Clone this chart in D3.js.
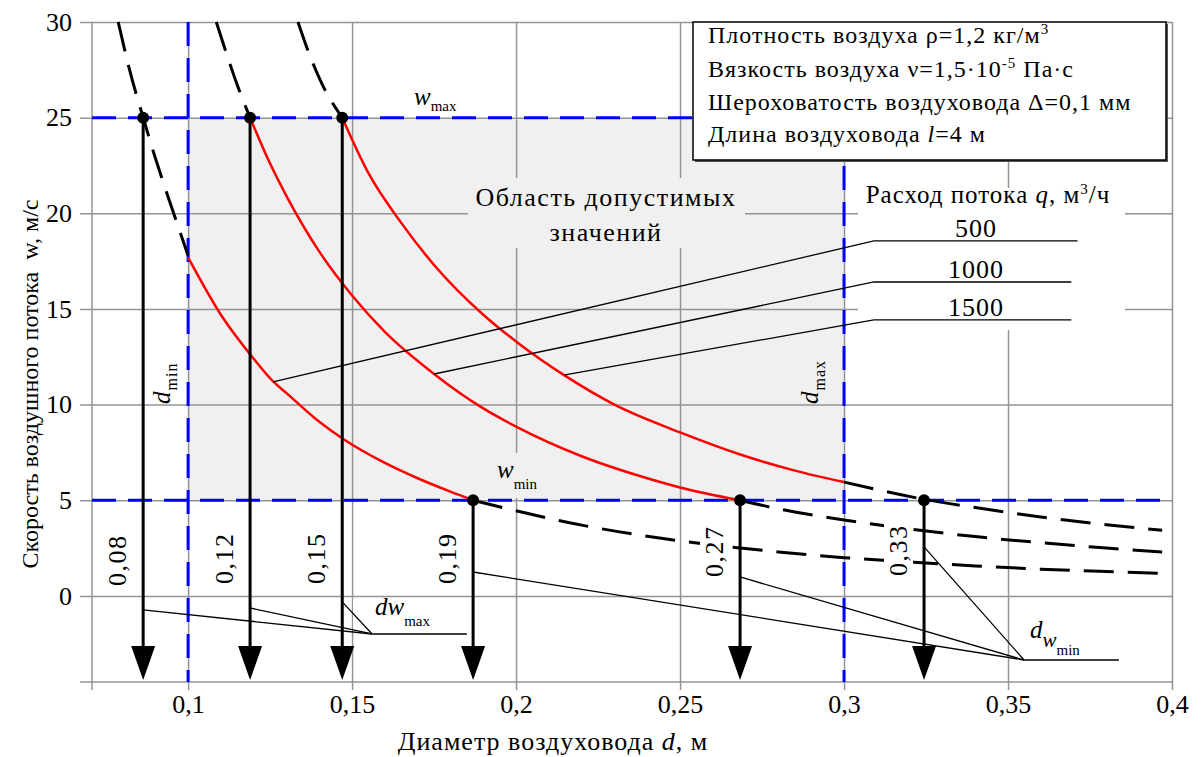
<!DOCTYPE html>
<html>
<head>
<meta charset="utf-8">
<script src="https://cdn.jsdelivr.net/npm/d3@7/dist/d3.min.js"></script>
<style>
body { margin: 0; background: #fff; }
svg text { font-family: "Liberation Serif", "DejaVu Serif", serif; fill: #000; }
</style>
</head>
<body>
<svg id="chart" width="1202" height="757"></svg>
<script>
// axes
const xTicks = [0.1, 0.15, 0.2, 0.25, 0.3, 0.35, 0.4];
const xTickLabels = ["0,1", "0,15", "0,2", "0,25", "0,3", "0,35", "0,4"];
const yTicks = [0, 5, 10, 15, 20, 25, 30];

// allowed region: d from dMin to dMax, w from wMin to wMax
const dLimits = [0.1, 0.3];
const wLimits = [5, 25];

// flow curves q = 500, 1000, 1500 m3/h (d, w)
const q500Upper = [[0.0787, 30], [0.082, 27.6], [0.0863, 25], [0.09, 22.9], [0.095, 20.3], [0.1, 17.8]];
const q500Red = [[0.1, 17.7], [0.11, 14.7], [0.12, 12.4], [0.126, 11.2], [0.13, 10.6], [0.14, 9.1],
                 [0.1473, 8.2], [0.16, 6.95], [0.17, 6.15], [0.18, 5.45], [0.1869, 5.0]];
const q500Lower = [[0.1869, 5.0], [0.2, 4.45], [0.22, 3.7], [0.24, 3.12], [0.26, 2.66], [0.28, 2.3],
                   [0.3, 2.0], [0.32, 1.77], [0.34, 1.57], [0.36, 1.4], [0.38, 1.27], [0.397, 1.18]];

const q1000Upper = [[0.1086, 30], [0.112, 28.2], [0.115, 26.7], [0.1189, 25]];
const q1000Red = [[0.1189, 25], [0.125, 22.6], [0.13, 20.9], [0.14, 18.0], [0.15, 15.7], [0.16, 13.8],
                  [0.175, 11.6], [0.19, 9.8], [0.2, 8.85], [0.22, 7.3], [0.24, 6.15], [0.25, 5.67], [0.2683, 5.0]];
const q1000Lower = [[0.2683, 5.0], [0.28, 4.55], [0.3, 3.97], [0.32, 3.5], [0.34, 3.1], [0.36, 2.78],
                    [0.38, 2.5], [0.397, 2.3]];

const q1500Upper = [[0.1335, 30], [0.137, 28.3], [0.141, 26.7], [0.147, 25]];
const q1500Red = [[0.147, 25], [0.155, 22.1], [0.165, 19.5], [0.175, 17.3], [0.19, 14.7], [0.2, 13.3],
                  [0.215, 11.5], [0.23, 10.0], [0.25, 8.55], [0.27, 7.3], [0.285, 6.55], [0.3, 5.95]];
const q1500Lower = [[0.3, 5.95], [0.3244, 5.05], [0.34, 4.62], [0.36, 4.13], [0.38, 3.72], [0.397, 3.43]];

// arrows to the d axis
const arrowD = [0.0863, 0.1189, 0.147, 0.1869, 0.2683, 0.3244];
const arrowW = [25, 25, 25, 5, 5, 5];
const arrowLabels = ["0,08", "0,12", "0,15", "0,19", "0,27", "0,33"];

// legend of flows and its leader lines
const flowLabels = ["500", "1000", "1500"];
const flowOnCurve = [[0.1259, 11.19], [0.175, 11.6], [0.2149, 11.55]];
const flowKneeD = 0.3091;
const flowKneeW = [18.56, 16.41, 14.43];
const flowEndD = [0.3712, 0.3693, 0.3693];

// dw leaders
const dwMaxW = [-0.73, -0.63, -0.31];
const dwMaxKnee = [0.1561, -1.99];
const dwMaxEndD = 0.185;
const dwMinW = [1.25, 0.99, 2.56];
const dwMinKnee = [0.3549, -3.35];
const dwMinEndD = 0.3838;

const FONT = '"Liberation Serif", "DejaVu Serif", serif';
const svg = d3.select("#chart").style("font-family", FONT);
const x = d3.scaleLinear().domain([0.0707, 0.4]).range([92, 1172]);
const y = d3.scaleLinear().domain([-4.5, 30]).range([682, 22]);
const gridColor = "#949494";

// grey region
svg.append("rect")
    .attr("x", x(dLimits[0])).attr("y", y(wLimits[1]))
    .attr("width", x(dLimits[1]) - x(dLimits[0]))
    .attr("height", y(wLimits[0]) - y(wLimits[1]))
    .attr("fill", "#f0f0f0");

// grid through axes
let gx = svg.append("g")
    .attr("transform", "translate(0,690)")
    .call(d3.axisBottom(x).tickValues(xTicks).tickFormat((d, i) => xTickLabels[i]).tickSize(-668).tickPadding(5));
gx.attr("font-size", 26).attr("font-family", FONT);
gx.select(".domain").remove();
gx.selectAll(".tick line").attr("stroke", gridColor).attr("stroke-width", 1.5);

let gy = svg.append("g")
    .attr("transform", "translate(80,0)")
    .call(d3.axisLeft(y).tickValues(yTicks).tickSize(-1092).tickPadding(8));
gy.attr("font-size", 26).attr("font-family", FONT);
gy.select(".domain").remove();
gy.selectAll(".tick line").attr("stroke", gridColor).attr("stroke-width", 1.5);

svg.append("line").attr("x1", x.range()[0]).attr("x2", x.range()[0]).attr("y1", y(30)).attr("y2", 690)
    .attr("stroke", gridColor).attr("stroke-width", 1.5);
svg.append("line").attr("x1", 80).attr("x2", x.range()[1]).attr("y1", y(-4.5)).attr("y2", y(-4.5))
    .attr("stroke", gridColor).attr("stroke-width", 1.5);

// label backgrounds that hide the grid
function bg(x0, y0, w, h, fill) {
    svg.append("rect").attr("x", x0).attr("y", y0).attr("width", w).attr("height", h).attr("fill", fill);
}
bg(468, 178, 277, 70, "#f0f0f0");
bg(496, 453, 54, 45, "#f0f0f0");
bg(858, 188, 267, 142, "#fff");
bg(353, 598, 110, 33, "#fff");
bg(1010, 612, 100, 46, "#fff");

// blue limit lines
const blue = svg.append("g").attr("stroke", "#0000ff").attr("stroke-width", 3).attr("stroke-dasharray", "24 12");
wLimits.forEach(w => {
    blue.append("line").attr("x1", x.range()[0]).attr("x2", x(0.4)).attr("y1", y(w)).attr("y2", y(w));
});
dLimits.forEach(d => {
    blue.append("line").attr("x1", x(d)).attr("x2", x(d)).attr("y1", y(30)).attr("y2", y(-4.5));
});

// curves
const line = d3.line().x(d => x(d[0])).y(d => y(d[1])).curve(d3.curveMonotoneX);
[q500Upper, q1000Upper, q1500Upper, q500Lower, q1000Lower, q1500Lower].forEach(seg => {
    svg.append("path").attr("d", line(seg)).attr("fill", "none")
        .attr("stroke", "#000").attr("stroke-width", 3).attr("stroke-dasharray", "30 14");
});
[q500Red, q1000Red, q1500Red].forEach(seg => {
    svg.append("path").attr("d", line(seg)).attr("fill", "none")
        .attr("stroke", "#ff0000").attr("stroke-width", 2.5);
});

// legend leader lines
const thin = svg.append("g").attr("stroke", "#000").attr("stroke-width", 1.3).attr("fill", "none");
const straight = d3.line().x(d => x(d[0])).y(d => y(d[1]));
flowLabels.forEach((f, i) => {
    thin.append("path").attr("d", straight([flowOnCurve[i], [flowKneeD, flowKneeW[i]], [flowEndD[i], flowKneeW[i]]]));
});
// dw leaders
[0, 1, 2].forEach(i => {
    thin.append("path").attr("d", straight([[arrowD[i], dwMaxW[i]], dwMaxKnee]));
    thin.append("path").attr("d", straight([[arrowD[i + 3], dwMinW[i]], dwMinKnee]));
});
thin.append("line").attr("x1", x(dwMaxKnee[0])).attr("x2", x(dwMaxEndD)).attr("y1", y(dwMaxKnee[1])).attr("y2", y(dwMaxKnee[1]));
thin.append("line").attr("x1", x(dwMinKnee[0])).attr("x2", x(dwMinEndD)).attr("y1", y(dwMinKnee[1])).attr("y2", y(dwMinKnee[1]));

// arrows
const tipY = 680, headH = 34, headW = 12;
arrowD.forEach((d, i) => {
    const ax = x(d);
    svg.append("line").attr("x1", ax).attr("x2", ax).attr("y1", y(arrowW[i])).attr("y2", tipY - headH + 2)
        .attr("stroke", "#000").attr("stroke-width", 3);
    svg.append("path")
        .attr("d", `M${ax - headW},${tipY - headH} L${ax + headW},${tipY - headH} L${ax},${tipY} Z`)
        .attr("fill", "#000");
    svg.append("circle").attr("cx", ax).attr("cy", y(arrowW[i])).attr("r", 6).attr("fill", "#000");
});

// rotated labels next to arrows
const labelBottom = [586, 584, 584, 584, 577, 576];
arrowD.forEach((d, i) => {
    const g = svg.append("g").attr("transform", `translate(${x(d) - 17},${labelBottom[i]}) rotate(-90)`);
    const t = g.append("text").attr("font-size", 26).attr("letter-spacing", 1.5).text(arrowLabels[i]);
    const b = t.node().getBBox();
    g.insert("rect", "text").attr("x", b.x - 2).attr("y", b.y).attr("width", b.width + 4).attr("height", b.height)
        .attr("fill", i < 3 ? "none" : "#fff");
});

// text helpers
function rich(parent, px, py, parts, size, anchor, ls) {
    const t = parent.append("text").attr("x", px).attr("y", py).attr("font-size", size)
        .attr("text-anchor", anchor || "start").attr("letter-spacing", ls || 0);
    parts.forEach(p => {
        const s = t.append("tspan").text(p.t);
        if (p.i) s.attr("font-style", "italic");
        if (p.s) s.attr("font-size", p.s);
        if (p.dy) s.attr("dy", p.dy);
        if (p.dx) s.attr("dx", p.dx);
    });
    return t;
}

// info box
svg.append("rect").attr("x", 695).attr("y", 24).attr("width", 473).attr("height", 138).attr("fill", "#555");
svg.append("rect").attr("x", 693).attr("y", 22).attr("width", 473).attr("height", 138)
    .attr("fill", "#fff").attr("stroke", "#000").attr("stroke-width", 1.5);
rich(svg, 708, 43, [{t: "Плотность воздуха ρ=1,2 кг/м"}, {t: "3", s: 15, dy: -9}], 24, "start", 1);
rich(svg, 708, 77, [{t: "Вязкость воздуха ν=1,5·10"}, {t: "-5", s: 15, dy: -9}, {t: " Па·с", dy: 9}], 24, "start", 1);
rich(svg, 708, 110, [{t: "Шероховатость воздуховода Δ=0,1 мм"}], 24, "start", 1);
rich(svg, 708, 142, [{t: "Длина воздуховода "}, {t: "l", i: true}, {t: "=4 м"}], 24, "start", 1);

// region text
rich(svg, 606, 206, [{t: "Область допустимых"}], 26, "middle", 1.5);
rich(svg, 606, 241, [{t: "значений"}], 26, "middle", 1.5);

// legend
rich(svg, 988, 203, [{t: "Расход потока "}, {t: "q", i: true}, {t: ", м"}, {t: "3", s: 15, dy: -9}, {t: "/ч", dy: 9}], 25, "middle", 1);
flowLabels.forEach((f, i) => {
    rich(svg, 976, y(flowKneeW[i]) - 4, [{t: f}], 26, "middle", 1);
});

// w labels
rich(svg, 414, 105, [{t: "w", i: true}, {t: "max", s: 15, dy: 6}], 25);
rich(svg, 497, 478, [{t: "w", i: true}, {t: "min", s: 15, dy: 11}], 25);
rich(svg, 375, 615, [{t: "dw", i: true}, {t: "max", s: 15, dy: 11}], 25);
rich(svg, 1030, 638, [{t: "d", i: true}, {t: "w", i: true, s: 21, dy: 9}, {t: "min", s: 15, dy: 8}], 25);

// d labels
const dmin = svg.append("g").attr("transform", "translate(170,404) rotate(-90)");
rich(dmin, 0, 0, [{t: "d", i: true}, {t: "min", s: 16, dy: 7}], 25, "start", 1);
const dmax = svg.append("g").attr("transform", "translate(818,404) rotate(-90)");
rich(dmax, 0, 0, [{t: "d", i: true}, {t: "max", s: 16, dy: 7}], 25, "start", 1);

// axis titles
const ylab = svg.append("g").attr("transform", "translate(38,384) rotate(-90)");
rich(ylab, 0, 0, [{t: "Скорость воздушного потока "}, {t: "w", dx: 6}, {t: ", м/с"}], 24, "middle");
rich(svg, 553, 750, [{t: "Диаметр воздуховода "}, {t: "d", i: true}, {t: ", м"}], 26, "middle", 1);
</script>
</body>
</html>
